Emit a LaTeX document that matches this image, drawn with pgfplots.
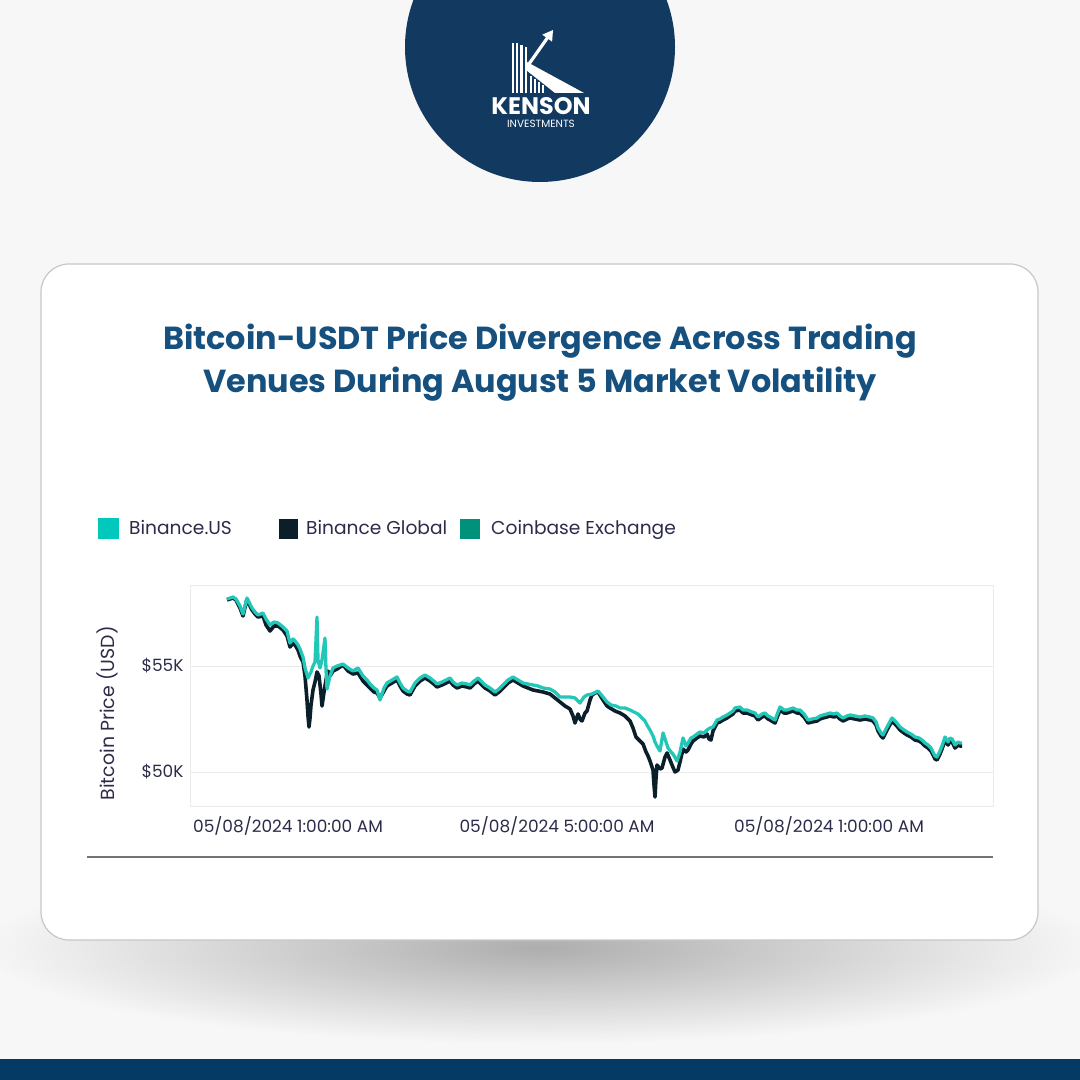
\documentclass[border=0pt]{standalone}
\usepackage{fontspec}
\setmainfont{Poppins}
\usepackage{pgfplots}
\pgfplotsset{compat=1.18}
\definecolor{bg}{HTML}{F7F7F7}
\definecolor{navy}{HTML}{12395F}
\definecolor{band}{HTML}{053A65}
\definecolor{titleblue}{HTML}{15507F}
\definecolor{bus}{HTML}{22C7B8}
\definecolor{busleg}{HTML}{00C8BC}
\definecolor{bglobal}{HTML}{0B1F2B}
\definecolor{coinbase}{HTML}{00917A}
\definecolor{txt}{HTML}{2C2C4A}
\begin{document}
\begin{tikzpicture}
\begin{scope}[x=1bp,y=1bp]
\useasboundingbox (0,0) rectangle (1080,1080);
\fill[bg] (0,0) rectangle (1080,1080);
% shadow under card
\begin{scope}
\clip (0,0) rectangle (1080,1080);
\shade[inner color=black!32, outer color=bg] (540,132) ellipse [x radius=560, y radius=96];
\end{scope}
\fill[band] (0,0) rectangle (1080,21);
% card
\draw[draw=black!22, fill=white, line width=1.2bp, rounded corners=28bp] (41,140) rectangle (1038,816);
\draw[black!55, line width=1.3bp] (87,223) -- (993,223);
% logo
\begin{scope}
\clip (0,0) rectangle (1080,1080);
\fill[navy] (540,1033) circle (135);
\end{scope}
\foreach \x/\t in {513/1037,517/1037,521.5/1035,526/1033,531/1004,535/1001,539/998,543/994.5}{
  \fill[white] (\x-1.1,987) rectangle (\x+1.1,\t);
}
\fill[white] (527,1018) -- (584,987) -- (555,987) -- (526,1010) -- cycle;
\draw[white, line width=3.2bp] (529,1016) -- (548,1043);
\fill[white] (553,1050) -- (552.1,1038.3) -- (542.3,1045.3) -- cycle;
\node[white, font=\fontsize{24}{24}\selectfont\bfseries] at (541,974) {KENSON};
\node[white, font=\fontsize{10.5}{11}\selectfont] at (541,956) {INVESTMENTS};
% title
\node[titleblue, font=\fontsize{32}{43}\selectfont\bfseries, anchor=base] at (540,730) {Bitcoin-USDT Price Divergence Across Trading};
\node[titleblue, font=\fontsize{32}{43}\selectfont\bfseries, anchor=base] at (540,687) {Venues During August 5 Market Volatility};
% legend
\fill[busleg] (98,541) rectangle (119,562);
\node[txt, anchor=base west, inner sep=0pt, font=\fontsize{18.7}{20}\selectfont] at (129,545) {Binance.US};
\fill[bglobal] (279,541) rectangle (298,561);
\node[txt, anchor=base west, inner sep=0pt, font=\fontsize{18.7}{20}\selectfont] at (306,545) {Binance Global};
\fill[coinbase] (460,541) rectangle (480,561);
\node[txt, anchor=base west, inner sep=0pt, font=\fontsize{18.7}{20}\selectfont] at (491,545) {Coinbase Exchange};
\end{scope}
\begin{axis}[
  at={(190bp,274bp)}, anchor=south west,
  width=803bp, height=221bp, scale only axis,
  xmin=190, xmax=993, ymin=48396, ymax=58821,
  scaled y ticks=false, scaled x ticks=false,
  axis line style={draw=black!8},
  ymajorgrids, grid style={draw=black!8, line width=0.8bp},
  ytick={50000,55000}, yticklabels={\$50K,\$55K},
  xtick={288,557,829},
  xticklabels={05/08/2024 1:00:00 AM, 05/08/2024 5:00:00 AM, 05/08/2024 1:00:00 AM},
  major tick length=0pt,
  tick label style={font=\fontsize{17}{19}\selectfont, text=txt},
  xticklabel style={yshift=-7bp},
  yticklabel style={xshift=-3bp},
  ylabel={Bitcoin Price (USD)},
  ylabel style={font=\fontsize{19}{21}\selectfont, text=txt, at={(axis description cs:-0.1034,0.419)}, anchor=center},
]
\addplot[bglobal, line width=3.6bp, line join=round] coordinates {
(227,58113)(233,58208)(236,58113)(240,57736)(243,57358)(247,58160)(250,57830)(252,57642)(255,57453)(258,57311)(263,57358)(266,56934)(270,56651)(274,56887)(278,56887)(283,56698)(287,56415)(290,55896)(293,56084)(295,55990)(298,55755)(300,55472)(303,55189)(305,54528)(307,53396)(308,52642)(309,52123)(310,52547)(311,53161)(313,53868)(315,54245)(317,54717)(319,54528)(321,53679)(322,53113)(324,53773)(326,54340)(328,54764)(330,54528)(333,54764)(337,54858)(343,55047)(348,54764)(353,54622)(358,54670)(363,54292)(367,54104)(370,53962)(374,53773)(377,53726)(380,53491)(384,53821)(387,54057)(392,54198)(397,54340)(400,54057)(403,53821)(407,53679)(410,53632)(415,54057)(420,54292)(425,54434)(430,54292)(435,54104)(437,54010)(442,54104)(446,54198)(450,54292)(453,54104)(457,53962)(462,54057)(467,54010)(470,53962)(474,54151)(478,54292)(482,54104)(485,53962)(490,53821)(495,53632)(499,53773)(503,53962)(508,54198)(513,54340)(518,54198)(523,54057)(528,53962)(533,53868)(538,53821)(543,53773)(550,53679)(555,53491)(560,53302)(565,53113)(570,52972)(573,52642)(575,52311)(578,52736)(580,52500)(582,52406)(585,52783)(587,52877)(590,53396)(592,53632)(595,53726)(598,53773)(603,53396)(607,53113)(610,53019)(615,52877)(620,52783)(625,52642)(630,52406)(633,52075)(636,51651)(640,51462)(643,51321)(646,50943)(648,50755)(650,50519)(653,50094)(654,49387)(655,48821)(656,49717)(657,50330)(660,50141)(662,50188)(665,50707)(667,50896)(670,50566)(672,50330)(675,50000)(678,50094)(680,50472)(683,51085)(686,50943)(688,51038)(691,51321)(693,51462)(697,51604)(700,51698)(704,51651)(707,51792)(709,51557)(711,51509)(713,51934)(717,52311)(720,52359)(723,52453)(727,52547)(730,52642)(733,52736)(735,52877)(740,52925)(743,52783)(747,52783)(752,52689)(755,52642)(758,52453)(762,52594)(765,52642)(768,52500)(770,52453)(775,52311)(778,52689)(780,52925)(784,52783)(787,52783)(790,52830)(793,52877)(797,52783)(800,52783)(804,52594)(808,52311)(812,52359)(817,52406)(820,52500)(823,52547)(827,52594)(830,52642)(834,52594)(837,52642)(840,52500)(843,52406)(847,52500)(850,52547)(855,52500)(860,52453)(865,52500)(870,52453)(873,52406)(876,52217)(878,51934)(881,51698)(883,51604)(887,51981)(892,52406)(896,52217)(900,51981)(904,51840)(907,51745)(911,51651)(915,51509)(919,51462)(922,51368)(925,51226)(928,51132)(931,50990)(933,50802)(935,50613)(937,50566)(940,50849)(942,51085)(945,51509)(948,51274)(950,51462)(952,51415)(955,51132)(958,51274)(960,51226)(962,51226)
};
\addplot[bus, line width=3.3bp, line join=round] coordinates {
(227,58160)(233,58255)(236,58160)(240,57830)(243,57453)(247,58208)(250,57925)(252,57736)(255,57547)(258,57406)(263,57500)(266,57217)(270,56934)(274,57076)(278,57028)(283,56840)(287,56651)(290,56084)(293,56273)(295,56179)(298,55990)(300,55802)(303,55424)(305,54906)(308,54434)(311,54717)(313,55000)(315,55189)(317,57311)(318,55283)(320,54906)(322,55283)(325,56320)(326,54811)(327,53915)(330,54528)(333,54906)(337,55000)(343,55094)(348,54906)(353,54764)(358,54906)(363,54528)(367,54340)(370,54151)(374,53962)(377,53868)(380,53396)(384,53962)(387,54198)(392,54340)(397,54481)(400,54198)(403,53962)(407,53821)(410,53773)(415,54198)(420,54434)(425,54575)(430,54434)(435,54245)(437,54151)(442,54245)(446,54340)(450,54434)(453,54245)(457,54104)(462,54198)(467,54151)(470,54104)(474,54292)(478,54434)(482,54245)(485,54104)(490,53962)(495,53773)(499,53915)(503,54104)(508,54340)(513,54481)(518,54340)(523,54198)(528,54151)(533,54104)(538,54057)(543,53962)(550,53915)(555,53773)(560,53538)(565,53538)(570,53538)(575,53491)(580,53255)(584,53538)(587,53632)(592,53679)(598,53821)(603,53538)(607,53302)(611,53161)(616,53113)(620,53019)(625,53019)(630,52925)(634,52830)(638,52736)(642,52547)(645,52406)(647,52217)(650,51981)(653,51698)(655,51415)(657,51226)(660,50990)(663,51840)(666,51415)(668,51132)(671,50943)(673,50849)(677,50519)(680,50943)(683,51604)(686,51226)(688,51368)(691,51604)(693,51651)(697,51792)(700,51887)(704,51840)(707,51981)(710,52075)(713,52123)(717,52453)(720,52500)(723,52594)(727,52689)(730,52783)(733,52877)(735,53019)(740,53066)(743,52925)(747,52925)(752,52830)(755,52783)(758,52594)(762,52736)(765,52783)(768,52642)(770,52594)(775,52453)(778,52830)(780,53066)(784,52925)(787,52925)(790,52972)(793,53019)(797,52925)(800,52925)(804,52736)(808,52453)(812,52500)(817,52547)(820,52642)(823,52689)(827,52736)(830,52783)(834,52736)(837,52783)(840,52642)(843,52547)(847,52642)(850,52689)(855,52642)(860,52594)(865,52642)(870,52594)(873,52547)(876,52359)(878,52075)(881,51840)(883,51745)(887,52123)(892,52547)(896,52359)(900,52123)(904,51981)(907,51887)(911,51792)(915,51651)(919,51604)(922,51509)(925,51368)(928,51274)(931,51132)(933,50943)(935,50755)(937,50707)(940,50990)(942,51226)(945,51651)(948,51415)(950,51604)(952,51557)(955,51274)(958,51415)(960,51368)(962,51368)
};
\end{axis}
\end{tikzpicture}
\end{document}
